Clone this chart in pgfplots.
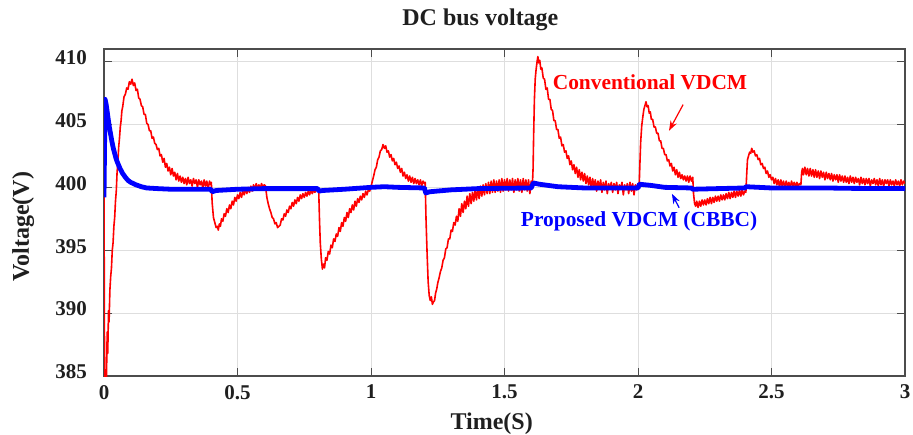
\documentclass[border=0pt]{standalone}
\usepackage{fontspec}
\setmainfont{Liberation Serif}
\usepackage{pgfplots}
\usepackage{pgfplotstable}
\pgfplotsset{compat=1.18}
\usetikzlibrary{arrows.meta}
\definecolor{axgray}{rgb}{0.3,0.3,0.3}
\definecolor{gridgray}{rgb}{0.87,0.87,0.87}
\definecolor{txt}{rgb}{0.12,0.12,0.12}

\pgfplotstableread{
t v
0 399.5
0.002 386
0.004 384.2
0.007 385.5
0.009 384.6
0.012 388.5
0.014 386.8
0.017 390.2
0.019 389.3
0.022 391.8
0.025 392.9
0.028 393.6
0.031 395.0
0.034 395.6
0.037 396.9
0.040 397.6
0.043 398.9
0.046 399.7
0.049 401.2
0.052 402.0
0.055 403.2
0.058 403.9
0.061 404.8
0.064 405.3
0.067 406.1
0.070 406.4
0.075 407.2
0.080 407.4
0.085 407.9
0.090 407.8
0.095 408.4
0.100 408.2
0.105 408.6
0.110 408.1
0.115 408.3
0.120 407.7
0.125 407.8
0.130 407.1
0.135 407.0
0.140 406.5
0.145 406.4
0.150 405.8
0.155 405.8
0.160 405.1
0.165 405.0
0.170 404.5
0.175 404.5
0.180 403.9
0.185 404.0
0.190 403.5
0.195 403.4
0.200 403.0
0.205 403.1
0.210 402.5
0.215 402.6
0.220 402.0
0.225 402.3
0.230 401.6
0.235 401.9
0.240 401.3
0.245 401.6
0.250 401.0
0.255 401.5
0.260 400.9
0.265 401.2
0.270 400.6
0.275 401.1
0.280 400.5
0.285 400.9
0.290 400.4
0.295 400.8
0.300 400.3
0.305 400.7
0.310 400.2
0.315 400.8
0.320 400.3
0.325 400.6
0.330 400.1
0.335 400.7
0.340 400.3
0.345 400.6
0.350 400.0
0.355 400.6
0.360 400.2
0.365 400.5
0.370 399.9
0.375 400.6
0.380 400.1
0.385 400.5
0.390 399.8
0.395 400.5
0.400 400.2
0.402 400.4
0.405 398.8
0.410 397.6
0.415 397.2
0.420 396.8
0.425 396.9
0.428 396.6
0.432 397.1
0.436 396.9
0.440 397.5
0.445 397.3
0.450 397.9
0.455 397.7
0.460 398.3
0.465 398.0
0.470 398.6
0.475 398.3
0.480 398.9
0.485 398.6
0.490 399.2
0.495 398.9
0.500 399.4
0.505 399.1
0.510 399.6
0.515 399.2
0.520 399.7
0.525 399.4
0.530 399.9
0.535 399.5
0.540 400.0
0.545 399.6
0.550 400.1
0.555 399.7
0.560 400.2
0.565 399.8
0.570 400.3
0.575 399.9
0.580 400.2
0.585 399.9
0.590 400.3
0.595 400.0
0.600 400.2
0.605 400.1
0.610 399.2
0.615 398.7
0.620 398.3
0.625 398.0
0.630 397.6
0.635 397.5
0.640 397.1
0.645 397.2
0.650 396.8
0.655 396.9
0.660 397.0
0.665 397.5
0.670 397.4
0.675 397.9
0.680 397.7
0.685 398.2
0.690 398.0
0.695 398.5
0.700 398.3
0.705 398.8
0.710 398.5
0.715 399.0
0.720 398.7
0.725 399.2
0.730 398.9
0.735 399.4
0.740 399.1
0.745 399.5
0.750 399.2
0.755 399.6
0.760 399.3
0.765 399.7
0.770 399.4
0.775 399.8
0.780 399.5
0.785 399.8
0.790 399.6
0.795 399.9
0.800 399.7
0.804 399.9
0.807 397.5
0.810 395.6
0.814 394.3
0.818 393.5
0.822 393.9
0.826 393.6
0.830 394.4
0.835 394.2
0.840 394.9
0.845 394.7
0.850 395.4
0.855 395.2
0.860 395.9
0.865 395.7
0.870 396.3
0.875 396.1
0.880 396.8
0.885 396.5
0.890 397.2
0.895 396.9
0.900 397.6
0.905 397.3
0.910 398.0
0.915 397.6
0.920 398.3
0.925 398.0
0.930 398.6
0.935 398.2
0.940 398.9
0.945 398.5
0.950 399.1
0.955 398.8
0.960 399.3
0.965 399.0
0.970 399.5
0.975 399.2
0.980 399.7
0.985 399.4
0.990 399.8
0.995 399.7
1.000 400.0
1.005 400.5
1.010 400.9
1.015 401.4
1.020 401.6
1.025 402.2
1.030 402.4
1.035 402.9
1.040 403.0
1.045 403.4
1.050 403.1
1.055 403.3
1.060 402.8
1.065 402.9
1.070 402.4
1.075 402.6
1.080 402.1
1.085 402.3
1.090 401.8
1.095 402.0
1.100 401.5
1.105 401.7
1.110 401.2
1.115 401.5
1.120 400.9
1.125 401.2
1.130 400.7
1.135 401.0
1.140 400.5
1.145 400.9
1.150 400.4
1.155 400.8
1.160 400.3
1.165 400.7
1.170 400.3
1.175 400.6
1.180 400.2
1.185 400.6
1.190 400.1
1.195 400.5
1.200 400.3
1.203 400.4
1.206 397.5
1.210 394.8
1.214 392.5
1.218 391.4
1.222 391.0
1.226 391.3
1.230 390.7
1.234 390.9
1.238 391.0
1.242 391.6
1.246 391.9
1.250 392.4
1.255 392.8
1.260 393.3
1.265 393.6
1.270 394.2
1.275 394.4
1.280 395.1
1.285 395.2
1.290 395.9
1.295 395.9
1.300 396.6
1.305 396.5
1.310 397.2
1.315 397.0
1.320 397.7
1.325 397.3
1.330 398.3
1.335 397.7
1.340 398.7
1.345 398.0
1.350 398.9
1.355 398.3
1.360 399.3
1.365 398.5
1.370 399.5
1.375 398.7
1.380 399.6
1.385 398.9
1.390 399.8
1.395 399.0
1.400 399.9
1.405 399.1
1.410 400.1
1.415 399.3
1.420 400.2
1.425 399.4
1.430 400.3
1.435 399.5
1.440 400.4
1.445 399.5
1.450 400.5
1.455 399.6
1.460 400.6
1.465 399.6
1.470 400.5
1.475 399.7
1.480 400.6
1.485 399.6
1.490 400.7
1.495 399.7
1.500 400.6
1.505 399.8
1.510 400.7
1.515 399.7
1.520 400.6
1.525 399.8
1.530 400.7
1.535 399.6
1.540 400.6
1.545 399.8
1.550 400.7
1.555 399.7
1.560 400.6
1.565 399.6
1.570 400.7
1.575 399.8
1.580 400.6
1.585 399.7
1.590 400.6
1.595 399.5
1.600 400.5
1.604 399.9
1.607 401.5
1.609 404.0
1.612 407.0
1.615 408.6
1.618 409.3
1.622 410.0
1.625 410.4
1.628 409.9
1.632 410.1
1.636 409.4
1.640 409.5
1.645 408.7
1.650 408.6
1.655 407.8
1.660 407.9
1.665 407.0
1.670 407.0
1.675 406.2
1.680 406.1
1.685 405.3
1.690 405.3
1.695 404.6
1.700 404.6
1.705 403.9
1.710 404.0
1.715 403.3
1.720 403.4
1.725 402.8
1.730 402.9
1.735 402.3
1.740 402.5
1.745 401.8
1.750 402.1
1.755 401.4
1.760 401.8
1.765 401.1
1.770 401.6
1.775 400.8
1.780 401.4
1.785 400.6
1.790 401.2
1.795 400.5
1.800 401.1
1.805 400.3
1.810 400.9
1.815 400.2
1.820 400.8
1.825 399.9
1.830 400.7
1.835 400.0
1.840 400.6
1.845 399.7
1.850 400.5
1.855 399.9
1.860 400.6
1.865 399.6
1.870 400.4
1.875 399.8
1.880 400.5
1.885 399.5
1.890 400.3
1.895 399.9
1.900 400.4
1.905 399.6
1.910 400.3
1.915 399.8
1.920 400.4
1.925 399.5
1.930 400.2
1.935 399.9
1.940 400.4
1.945 399.4
1.950 400.2
1.955 399.8
1.960 400.3
1.965 399.5
1.970 400.4
1.975 399.7
1.980 400.3
1.985 399.4
1.990 400.2
1.995 399.8
2.000 400.3
2.004 399.9
2.007 401.8
2.010 403.6
2.014 404.9
2.018 405.6
2.022 406.2
2.026 406.5
2.030 406.8
2.034 406.4
2.038 406.5
2.042 405.9
2.046 406.0
2.050 405.4
2.055 405.4
2.060 404.8
2.065 404.8
2.070 404.3
2.075 404.3
2.080 403.7
2.085 403.7
2.090 403.1
2.095 403.1
2.100 402.6
2.105 402.6
2.110 402.1
2.115 402.2
2.120 401.7
2.125 401.9
2.130 401.3
2.135 401.6
2.140 401.0
2.145 401.4
2.150 400.8
2.155 401.2
2.160 400.7
2.165 401.0
2.170 400.6
2.175 400.9
2.180 400.5
2.185 400.9
2.190 400.4
2.195 400.9
2.200 400.5
2.205 400.8
2.208 399.5
2.212 398.7
2.216 398.5
2.220 398.9
2.225 398.4
2.230 398.9
2.235 398.5
2.240 399.0
2.245 398.6
2.250 399.0
2.255 398.6
2.260 399.1
2.265 398.7
2.270 399.2
2.275 398.7
2.280 399.2
2.285 398.8
2.290 399.3
2.295 398.9
2.300 399.3
2.305 398.9
2.310 399.4
2.315 399.0
2.320 399.4
2.325 399.0
2.330 399.5
2.335 399.1
2.340 399.6
2.345 399.1
2.350 399.6
2.355 399.2
2.360 399.7
2.365 399.2
2.370 399.7
2.375 399.3
2.380 399.8
2.385 399.3
2.390 399.8
2.395 399.4
2.400 399.7
2.404 399.6
2.407 401.0
2.410 402.2
2.414 402.5
2.418 402.8
2.422 402.7
2.426 403.1
2.430 402.8
2.435 402.9
2.440 402.5
2.445 402.6
2.450 402.2
2.455 402.3
2.460 401.8
2.465 401.9
2.470 401.5
2.475 401.6
2.480 401.1
2.485 401.3
2.490 400.8
2.495 401.0
2.500 400.6
2.505 400.8
2.510 400.3
2.515 400.7
2.520 400.2
2.525 400.6
2.530 400.0
2.535 400.6
2.540 400.1
2.545 400.5
2.550 400.0
2.555 400.5
2.560 400.1
2.565 400.4
2.570 400.0
2.575 400.5
2.580 400.1
2.585 400.4
2.590 400.0
2.595 400.4
2.600 400.1
2.605 400.3
2.610 400.2
2.613 401.2
2.616 401.5
2.620 401.0
2.625 401.6
2.630 401.0
2.635 401.5
2.640 400.9
2.645 401.5
2.650 400.9
2.655 401.4
2.660 400.8
2.665 401.4
2.670 400.8
2.675 401.3
2.680 400.7
2.685 401.3
2.690 400.8
2.695 401.2
2.700 400.6
2.705 401.2
2.710 400.7
2.715 401.1
2.720 400.6
2.725 401.1
2.730 400.5
2.735 401.0
2.740 400.6
2.745 401.0
2.750 400.4
2.755 401.0
2.760 400.5
2.765 400.9
2.770 400.4
2.775 400.9
2.780 400.4
2.785 400.8
2.790 400.3
2.795 400.9
2.800 400.4
2.805 400.8
2.810 400.3
2.815 400.8
2.820 400.4
2.825 400.7
2.830 400.2
2.835 400.8
2.840 400.3
2.845 400.7
2.850 400.2
2.855 400.7
2.860 400.3
2.865 400.7
2.870 400.1
2.875 400.6
2.880 400.3
2.885 400.7
2.890 400.2
2.895 400.6
2.900 400.1
2.905 400.7
2.910 400.2
2.915 400.6
2.920 400.1
2.925 400.6
2.930 400.3
2.935 400.6
2.940 400.1
2.945 400.6
2.950 400.2
2.955 400.5
2.960 400.1
2.965 400.6
2.970 400.2
2.975 400.5
2.980 400.1
2.985 400.6
2.990 400.2
2.995 400.5
3.000 400.3
}\conv

\pgfplotstableread{
t v
0 399.2
0.004 407.0
0.008 406.6
0.012 406.0
0.016 405.4
0.020 404.8
0.025 404.2
0.030 403.6
0.035 403.1
0.040 402.7
0.045 402.3
0.050 402.0
0.060 401.5
0.070 401.1
0.080 400.8
0.090 400.55
0.100 400.4
0.120 400.2
0.140 400.05
0.160 399.95
0.200 399.9
0.250 399.85
0.300 399.85
0.400 399.85
0.405 399.65
0.420 399.75
0.500 399.85
0.600 399.9
0.700 399.9
0.800 399.9
0.805 399.7
0.820 399.75
0.900 399.85
1.000 400.0
1.050 400.05
1.100 400.0
1.200 399.95
1.205 399.55
1.220 399.65
1.300 399.8
1.400 399.9
1.600 399.95
1.608 400.35
1.630 400.25
1.700 400.05
1.800 399.95
2.000 399.95
2.005 400.25
2.050 400.15
2.100 400.0
2.200 399.95
2.205 399.85
2.300 399.9
2.400 399.95
2.405 400.05
2.500 399.95
2.600 399.95
2.700 399.95
2.800 399.92
3.000 399.9
}\prop

\begin{document}
\begin{tikzpicture}[x=1pt,y=1pt]
\path[use as bounding box] (0,0) rectangle (456.5,217);
\begin{axis}[
  at={(52pt,29pt)}, anchor=south west,
  scale only axis, width=400.5pt, height=163.5pt,
  xmin=0, xmax=3, ymin=385, ymax=411,
  xtick={0,0.5,1,1.5,2,2.5,3},
  ytick={385,390,395,400,405,410},
  /pgf/number format/assume math mode=true,
  tick label style={font=\bfseries\fontsize{10.5}{12}\selectfont, text=txt},
  yticklabel style={xshift=-5pt, yshift=2pt},
  xticklabel style={yshift=-1pt},
  tick align=inside,
  major tick length=4pt,
  tick style={axgray, line width=0.5pt},
  axis line style={axgray, line width=0.6pt},
  grid=major,
  major grid style={gridgray, line width=0.5pt},
  xlabel={Time(S)},
  ylabel={Voltage(V)},
  label style={font=\bfseries\fontsize{12}{14}\selectfont, text=txt},
  xlabel style={at={(axis description cs:0.484,-0.147)}, anchor=center},
  ylabel style={at={(axis description cs:-0.101,0.456)}, anchor=center},
]
\addplot[red, line width=0.8pt, line join=round] table[x=t,y=v] {\conv};
\addplot[blue, line width=2.4pt, line join=round] table[x=t,y=v] {\prop};
\node[red, font=\bfseries\fontsize{10.7}{12}\selectfont] at (axis cs:2.045,408.33) {Conventional VDCM};
\node[blue, font=\bfseries\fontsize{10.7}{12}\selectfont] at (axis cs:2.004,397.26) {Proposed VDCM (CBBC)};
\draw[red, line width=0.6pt, -{Stealth[length=5pt,width=3.5pt]}] (axis cs:2.169,406.58) -- (axis cs:2.116,404.5);
\draw[blue, line width=0.6pt, -{Stealth[length=5pt,width=3.5pt]}] (axis cs:2.154,398.38) -- (axis cs:2.127,399.49);
\end{axis}
\node[anchor=base, text=txt, font=\bfseries\fontsize{12}{14}\selectfont] at (240.2,204) {DC bus voltage};
\end{tikzpicture}
\end{document}
